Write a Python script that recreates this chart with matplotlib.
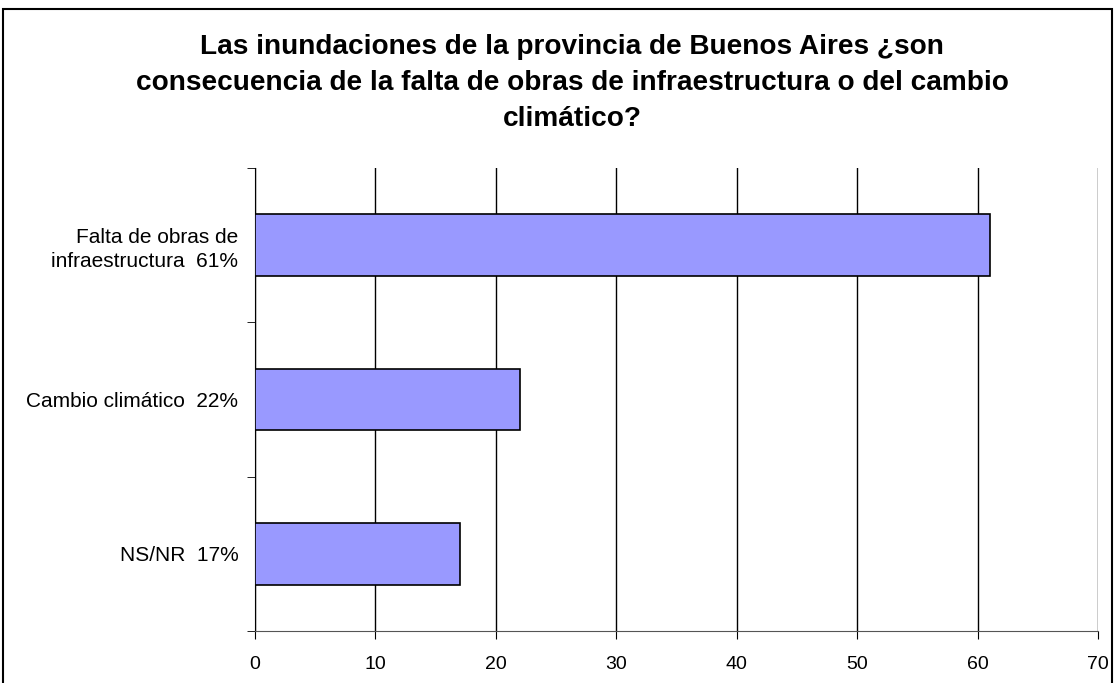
import matplotlib
matplotlib.use("Agg")
import matplotlib.pyplot as plt
from matplotlib.patches import Rectangle

plt.rcParams['font.family'] = ['Liberation Sans', 'DejaVu Sans']

categories = ['Falta de obras de\ninfraestructura  61%', 'Cambio climático  22%', 'NS/NR  17%']
values = [61, 22, 17]
xticks = [0, 10, 20, 30, 40, 50, 60, 70]
title = ('Las inundaciones de la provincia de Buenos Aires ¿son\n'
         'consecuencia de la falta de obras de infraestructura o del cambio\n'
         'climático?')

fig = plt.figure(figsize=(11.15, 6.83), dpi=100)
ax = fig.add_axes([0.2287, 0.0761, 0.7561, 0.6779])

pos = [2, 1, 0]
ax.barh(pos, values, height=0.4, color='#9999FF', edgecolor='black', linewidth=1.2, zorder=3)

ax.set_xlim(0, 70)
ax.set_ylim(-0.5, 2.5)
ax.set_xticks(xticks)
ax.set_xticklabels([str(t) for t in xticks], fontsize=14)
ax.set_yticks(pos)
ax.set_yticklabels(categories, fontsize=15, linespacing=1.3)
ax.set_yticks([-0.5, 0.5, 1.5, 2.5], minor=True)
ax.tick_params(axis='y', which='major', length=0, pad=12)
ax.tick_params(axis='y', which='minor', length=6, color='black')
ax.tick_params(axis='x', length=6, pad=12)
ax.xaxis.grid(True, color='black', linewidth=1, zorder=0)
ax.set_axisbelow(True)
for s in ['top', 'right']:
    ax.spines[s].set_visible(False)
ax.spines['left'].set_color('black')
ax.spines['bottom'].set_color('#555555')

fig.text(0.513, 0.878, title, ha='center', va='center', fontsize=20.2, fontweight='bold', linespacing=1.5)

fig.patches.append(Rectangle((0.003, -0.05), 0.994, 1.037, transform=fig.transFigure,
                             fill=False, edgecolor='black', linewidth=1.5))

fig.savefig('out.png', dpi=100)
